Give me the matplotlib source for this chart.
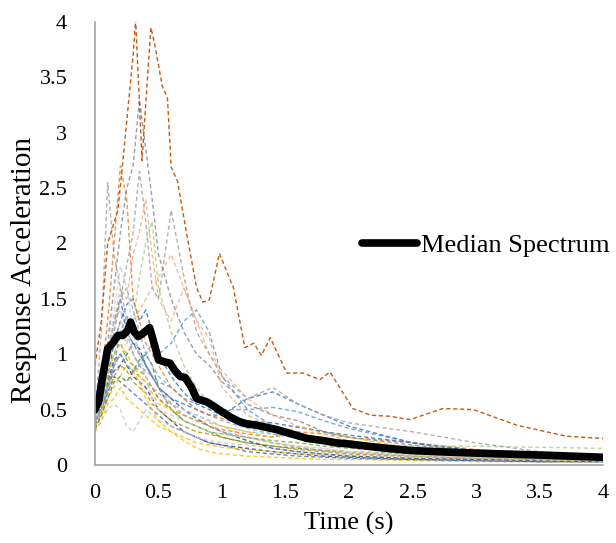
import matplotlib
matplotlib.use('Agg')
import matplotlib.pyplot as plt

plt.rcParams['font.family'] = ['Liberation Serif', 'DejaVu Serif']

# period grid shared by the individual record spectra
T = [0, 0.05, 0.1, 0.15, 0.2, 0.25, 0.3, 0.35, 0.4, 0.45, 0.5, 0.6, 0.7,
     0.8, 0.9, 1.0, 1.2, 1.4, 1.6, 1.8, 2.0, 2.5, 3.0, 3.5, 4.0]

# individual records
rec_orange = [0.5, 0.8, 1.3, 2.0, 2.7, 2.4, 1.5, 1.3, 1.1, 1.0, 0.9, 0.7, 0.6,
              0.5, 0.45, 0.42, 0.35, 0.3, 0.25, 0.2, 0.17, 0.12, 0.09, 0.07, 0.06]
rec_gray_a = [0.45, 1.2, 2.55, 1.9, 1.6, 1.3, 1.0, 0.9, 0.85, 0.8, 0.7, 0.55, 0.45,
              0.4, 0.35, 0.3, 0.25, 0.2, 0.16, 0.13, 0.11, 0.08, 0.06, 0.05, 0.04]
rec_gray_b = [0.4, 0.7, 1.1, 1.6, 2.1, 2.5, 2.7, 3.3, 2.85, 2.4, 1.9, 1.5, 1.2,
              1.0, 0.9, 0.75, 0.55, 0.45, 0.4, 0.3, 0.25, 0.18, 0.12, 0.09, 0.07]
rec_gray_c = [0.35, 0.6, 0.9, 1.2, 1.5, 1.8, 2.1, 2.65, 2.2, 1.6, 1.5, 2.3, 1.7,
              1.2, 1.0, 0.8, 0.6, 0.7, 0.55, 0.45, 0.38, 0.3, 0.2, 0.12, 0.08]
rec_salmon_a = [0.4, 0.6, 0.9, 1.3, 1.6, 1.5, 1.9, 2.1, 2.4, 1.9, 1.5, 1.3, 1.6,
                1.3, 1.0, 0.85, 0.6, 0.45, 0.35, 0.28, 0.22, 0.15, 0.1, 0.08, 0.06]
rec_green_a = [0.35, 0.5, 0.8, 1.0, 1.2, 1.1, 1.3, 1.7, 2.0, 2.2, 1.6, 1.2, 0.9,
               0.7, 0.55, 0.45, 0.35, 0.3, 0.25, 0.22, 0.2, 0.17, 0.17, 0.16, 0.15]
rec_blue_a = [0.4, 0.6, 1.0, 1.3, 1.5, 1.2, 1.1, 1.0, 0.9, 0.8, 0.7, 0.6, 0.55,
              0.5, 0.45, 0.45, 0.6, 0.66, 0.55, 0.45, 0.35, 0.2, 0.12, 0.08, 0.06]
rec_blue_b = [0.35, 0.5, 0.7, 0.9, 1.0, 0.9, 0.85, 0.9, 1.0, 1.1, 1.0, 1.1, 1.3,
              1.4, 1.2, 0.8, 0.5, 0.35, 0.28, 0.22, 0.18, 0.12, 0.08, 0.06, 0.05]
rec_gold_a = [0.3, 0.4, 0.55, 0.6, 0.7, 0.6, 0.55, 0.5, 0.45, 0.4, 0.35, 0.3, 0.22,
              0.15, 0.12, 0.1, 0.08, 0.07, 0.06, 0.05, 0.05, 0.04, 0.03, 0.03, 0.03]
rec_gold_b = [0.4, 0.55, 0.8, 1.0, 1.1, 1.0, 0.9, 0.8, 0.75, 0.65, 0.55, 0.5, 0.45,
              0.4, 0.38, 0.35, 0.3, 0.25, 0.35, 0.3, 0.25, 0.15, 0.08, 0.05, 0.04]
rec_navy = [0.35, 0.5, 0.75, 0.95, 1.0, 0.9, 0.8, 0.75, 0.7, 0.6, 0.5, 0.4, 0.3,
            0.25, 0.2, 0.18, 0.15, 0.12, 0.1, 0.08, 0.07, 0.05, 0.04, 0.03, 0.03]
rec_green_b = [0.4, 0.6, 0.85, 1.0, 1.1, 0.95, 0.9, 0.85, 0.8, 0.7, 0.6, 0.5, 0.4,
               0.35, 0.3, 0.28, 0.25, 0.22, 0.2, 0.17, 0.15, 0.12, 0.1, 0.08, 0.06]
rec_lightblue = [0.45, 0.7, 1.0, 1.3, 1.4, 1.2, 1.0, 0.9, 0.8, 0.7, 0.65, 0.55, 0.5,
                 0.45, 0.4, 0.35, 0.3, 0.28, 0.25, 0.2, 0.18, 0.13, 0.1, 0.07, 0.05]
rec_salmon_b = [0.45, 0.6, 0.9, 1.1, 1.3, 1.2, 1.3, 1.4, 1.5, 1.6, 1.7, 1.9, 1.6,
                1.3, 1.15, 0.7, 0.45, 0.35, 0.28, 0.22, 0.18, 0.12, 0.09, 0.07, 0.05]
rec_blue_c = [0.35, 0.55, 0.8, 1.1, 1.3, 1.45, 1.5, 1.3, 1.4, 1.2, 1.0, 0.8, 0.65,
              0.55, 0.5, 0.45, 0.4, 0.38, 0.34, 0.3, 0.27, 0.2, 0.13, 0.09, 0.06]
rec_gray_d = [0.3, 0.4, 0.5, 0.55, 0.5, 0.35, 0.3, 0.4, 0.5, 0.45, 0.4, 0.35, 0.3,
              0.25, 0.22, 0.2, 0.18, 0.15, 0.12, 0.1, 0.09, 0.07, 0.05, 0.04, 0.03]
rec_blue_d = [0.38, 0.5, 0.65, 0.8, 0.75, 0.7, 0.65, 0.6, 0.55, 0.5, 0.45, 0.35, 0.3,
              0.25, 0.2, 0.18, 0.12, 0.1, 0.08, 0.07, 0.06, 0.05, 0.04, 0.03, 0.03]
rec_orange_b = [0.4, 0.55, 0.75, 0.9, 1.0, 0.9, 0.85, 0.8, 0.75, 0.7, 0.6, 0.5, 0.45,
                0.4, 0.35, 0.32, 0.28, 0.25, 0.3, 0.28, 0.25, 0.2, 0.14, 0.1, 0.07]
rec_blue_e = [0.4, 0.5, 0.7, 0.9, 1.2, 1.35, 1.2, 1.0, 0.9, 0.8, 0.75, 0.7, 0.6,
              0.55, 0.55, 0.5, 0.5, 0.52, 0.48, 0.4, 0.33, 0.2, 0.12, 0.08, 0.06]
rec_green_c = [0.32, 0.45, 0.6, 0.75, 0.8, 0.75, 0.85, 0.95, 1.0, 0.9, 0.7, 0.5, 0.4,
               0.35, 0.3, 0.25, 0.2, 0.17, 0.15, 0.13, 0.12, 0.1, 0.08, 0.06, 0.05]
rec_gold_c = [0.35, 0.45, 0.6, 0.7, 0.8, 0.9, 0.85, 0.75, 0.6, 0.5, 0.4, 0.3, 0.25,
              0.2, 0.18, 0.16, 0.14, 0.12, 0.1, 0.09, 0.08, 0.06, 0.05, 0.05, 0.04]
rec_gray_e = [0.4, 0.6, 1.0, 1.4, 1.8, 1.6, 1.2, 1.0, 0.8, 0.6, 0.5, 0.45, 0.4,
              0.35, 0.3, 0.28, 0.25, 0.2, 0.17, 0.15, 0.12, 0.09, 0.07, 0.05, 0.04]
rec_blue_f = [0.42, 0.6, 0.9, 1.2, 1.5, 1.6, 1.4, 1.2, 1.0, 0.9, 0.8, 0.7, 0.6,
              0.5, 0.45, 0.4, 0.33, 0.28, 0.24, 0.2, 0.17, 0.12, 0.09, 0.07, 0.05]
rec_salmon_c = [0.38, 0.5, 0.7, 0.9, 1.0, 1.1, 1.0, 0.9, 0.8, 0.7, 0.65, 0.55, 0.5,
                0.45, 0.4, 0.35, 0.25, 0.2, 0.17, 0.15, 0.12, 0.09, 0.07, 0.05, 0.04]
rec_blue_g = [0.36, 0.5, 0.7, 0.85, 0.9, 1.0, 1.1, 1.05, 0.9, 0.8, 0.7, 0.6, 0.5,
              0.42, 0.35, 0.3, 0.22, 0.15, 0.12, 0.1, 0.08, 0.06, 0.05, 0.04, 0.03]
rec_gold_d = [0.33, 0.45, 0.65, 0.8, 0.9, 0.85, 0.75, 0.7, 0.65, 0.55, 0.5, 0.4, 0.35,
              0.3, 0.28, 0.25, 0.2, 0.17, 0.14, 0.12, 0.1, 0.08, 0.06, 0.05, 0.04]

records = [
    (rec_gold_a, '#FFC000'), (rec_navy, '#264478'), (rec_blue_d, '#4472C4'),
    (rec_gray_d, '#C9C9C9'), (rec_gold_c, '#FFC000'), (rec_green_c, '#548235'),
    (rec_gold_d, '#BF9000'), (rec_blue_g, '#2F5597'), (rec_salmon_c, '#F8CBAD'),
    (rec_green_b, '#70AD47'), (rec_lightblue, '#9DC3E6'), (rec_orange_b, '#ED7D31'),
    (rec_gold_b, '#FFC000'), (rec_blue_c, '#2E75B6'), (rec_blue_e, '#5B9BD5'),
    (rec_blue_f, '#7CAFDD'),
    (rec_blue_a, '#4472C4'), (rec_blue_b, '#5B9BD5'), (rec_gray_e, '#D0D0D0'),
    (rec_salmon_b, '#F4B183'), (rec_green_a, '#A9D18E'), (rec_salmon_a, '#F4B183'),
    (rec_gray_c, '#A5A5A5'), (rec_gray_a, '#A5A5A5'), (rec_gray_b, '#8C8C8C'),
    (rec_orange, '#ED7D31'),
]

# record with the largest response (own period grid)
top_t = [0, 0.05, 0.1, 0.18, 0.22, 0.3, 0.32, 0.37, 0.44, 0.47, 0.53, 0.57, 0.6,
         0.65, 0.72, 0.8, 0.85, 0.9, 0.98, 1.09, 1.18, 1.25, 1.31, 1.38, 1.51,
         1.64, 1.77, 1.85, 2.03, 2.17, 2.32, 2.48, 2.74, 2.98, 3.32, 3.71, 4.0]
top_v = [0.9, 1.3, 2.0, 2.3, 2.75, 3.7, 4.02, 2.75, 3.95, 3.8, 3.42, 3.32, 2.69,
         2.56, 2.1, 1.6, 1.47, 1.49, 1.91, 1.6, 1.06, 1.1, 0.99, 1.15, 0.83,
         0.83, 0.77, 0.84, 0.51, 0.45, 0.44, 0.41, 0.51, 0.5, 0.36, 0.26, 0.24]

median_t = [0, 0.03, 0.06, 0.1, 0.14, 0.18, 0.22, 0.26, 0.28, 0.31, 0.34, 0.38,
            0.43, 0.46, 0.5, 0.55, 0.59, 0.63, 0.67, 0.71, 0.76, 0.8, 0.88, 0.95,
            1.0, 1.07, 1.14, 1.2, 1.27, 1.35, 1.43, 1.55, 1.67, 1.8, 1.9, 2.0,
            2.14, 2.3, 2.5, 2.7, 2.93, 3.2, 3.5, 3.75, 4.0]
median_v = [0.5, 0.58, 0.8, 1.05, 1.1, 1.17, 1.17, 1.22, 1.29, 1.2, 1.16, 1.19,
            1.24, 1.12, 0.95, 0.93, 0.92, 0.85, 0.8, 0.79, 0.7, 0.6, 0.57, 0.52,
            0.48, 0.43, 0.39, 0.37, 0.36, 0.34, 0.32, 0.28, 0.24, 0.22, 0.2, 0.19,
            0.17, 0.15, 0.13, 0.12, 0.11, 0.1, 0.09, 0.08, 0.07]

x_ticks = [0, 0.5, 1, 1.5, 2, 2.5, 3, 3.5, 4]
y_ticks = [0, 0.5, 1, 1.5, 2, 2.5, 3, 3.5, 4]

fig = plt.figure(figsize=(6.16, 5.43), dpi=100)
ax = fig.add_axes([95 / 616, 78 / 543, 508 / 616, 443 / 543])

dash = (0, (3, 2))
for vals, color in records:
    ax.plot(T, vals, color=color, lw=1.0, ls=dash, alpha=0.85)
ax.plot(top_t, top_v, color='#C55A11', lw=1.0, ls=dash)

median, = ax.plot(median_t, median_v, color='black', lw=5.5,
                  solid_capstyle='round', solid_joinstyle='round',
                  label='Median Spectrum')

ax.set_xlim(0, 4)
ax.set_ylim(0, 4)
ax.set_xticks(x_ticks)
ax.set_xticklabels([f'{v:g}' for v in x_ticks])
ax.set_yticks(y_ticks)
ax.set_yticklabels([f'{v:g}' for v in y_ticks])
ax.tick_params(length=0, labelsize=16, pad=0)
ax.tick_params(axis='x', pad=14)
ax.tick_params(axis='y', pad=20)

for side in ['top', 'right']:
    ax.spines[side].set_visible(False)
for side in ['left', 'bottom']:
    ax.spines[side].set_color('#A6A6A6')
    ax.spines[side].set_linewidth(1.2)

ax.set_xlabel('Time (s)', fontsize=19, labelpad=6)
ax.set_ylabel('Response Acceleration', fontsize=21)
ax.yaxis.set_label_coords(-0.115, 0.44)

fig.legend(handles=[median], loc='center left',
           bbox_to_anchor=(362 / 616, 1 - 245 / 543),
           frameon=False, fontsize=19, handlelength=2.1, handletextpad=0.15,
           borderpad=0, borderaxespad=0)

fig.savefig('out.png', dpi=100)
